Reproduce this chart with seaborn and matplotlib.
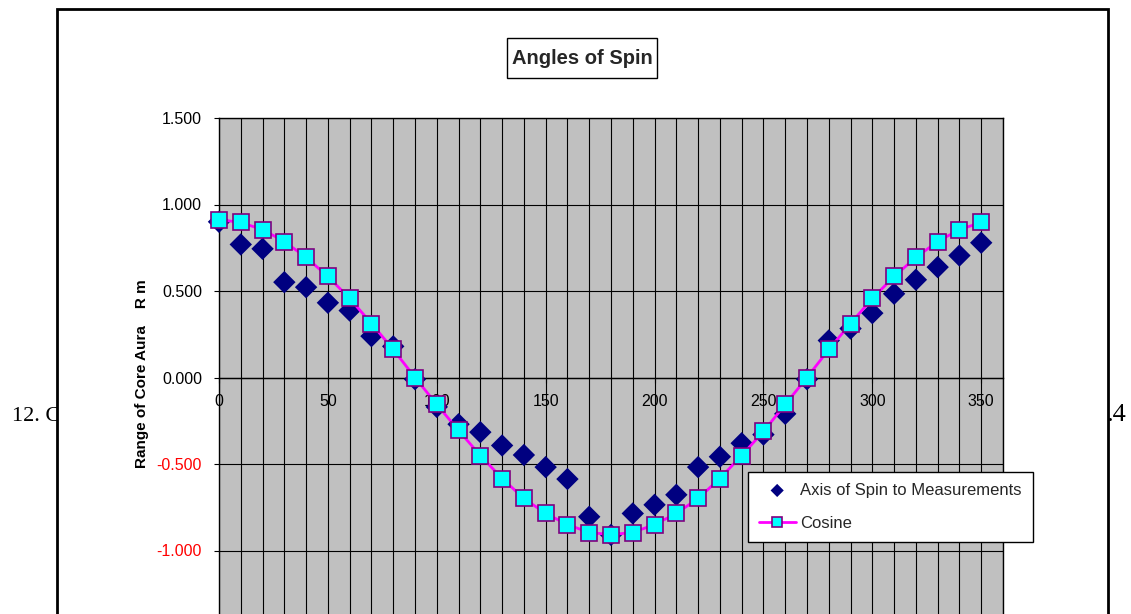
import matplotlib
matplotlib.use("Agg")
import matplotlib.pyplot as plt
import seaborn as sns
from matplotlib.patches import Rectangle

# Angle of rotation (degrees)
angles = list(range(0, 360, 10))

# Measured axis-of-spin readings
measured = [0.900, 0.769, 0.744, 0.551, 0.522, 0.432, 0.387, 0.239, 0.180, -0.010,
            -0.170, -0.270, -0.316, -0.393, -0.448, -0.518, -0.587, -0.805, -0.910, -0.786,
            -0.736, -0.678, -0.518, -0.458, -0.380, -0.330, -0.210, -0.010, 0.214, 0.283,
            0.372, 0.484, 0.565, 0.638, 0.705, 0.779]

# Reference cosine curve
cosine = [0.913, 0.896, 0.855, 0.786, 0.694, 0.584, 0.457, 0.312, 0.162, 0.000,
          -0.156, -0.306, -0.451, -0.584, -0.699, -0.786, -0.850, -0.896, -0.908, -0.896,
          -0.850, -0.786, -0.699, -0.584, -0.451, -0.312, -0.156, 0.000, 0.162, 0.312,
          0.457, 0.584, 0.694, 0.786, 0.855, 0.896]

x_ticks = [0, 50, 100, 150, 200, 250, 300, 350]
y_ticks = [-1.0, -0.5, 0.0, 0.5, 1.0, 1.5]

sns.set_theme(style="ticks")
plt.rcParams["font.family"] = ["Liberation Sans", "DejaVu Sans"]

W, H = 1131, 614
fig = plt.figure(figsize=(W / 100, H / 100), dpi=100)
fig.patch.set_facecolor("white")


def fx(px):
    return px / W


def fy(py):
    return 1 - py / H


# page text partly hidden behind the chart object
fig.text(fx(12), fy(421), "12. C", family="Liberation Serif", fontsize=16,
         va="baseline", ha="left", zorder=-3, color="black")
fig.text(fx(1106), fy(421), ".4", family="Liberation Serif", fontsize=19,
         va="baseline", ha="left", zorder=-3, color="black")

# chart object frame
fig.patches.append(Rectangle((fx(57), fy(660)), fx(1108) - fx(57), fy(9) - fy(660),
                             transform=fig.transFigure, facecolor="white",
                             edgecolor="black", linewidth=2, zorder=-1))

# title box
fig.patches.append(Rectangle((fx(507), fy(78)), fx(657) - fx(507), fy(38) - fy(78),
                             transform=fig.transFigure, facecolor="white",
                             edgecolor="black", linewidth=1, zorder=2))
fig.text(fx(582), fy(58), "Angles of Spin", ha="center", va="center",
         fontsize=14.5, fontweight="bold", zorder=3)

ax = fig.add_axes([fx(219), fy(637), fx(1003) - fx(219), (637 - 118) / H])
ax.set_facecolor("#C0C0C0")

sns.scatterplot(x=angles, y=measured, marker="D", s=130, color="#000080",
                edgecolor="none", linewidth=0, ax=ax,
                label="Axis of Spin to Measurements", zorder=3, clip_on=False)
sns.lineplot(x=angles, y=cosine, color="#FF00FF", linewidth=2, marker="s",
             markersize=11.5, markerfacecolor="#00FFFF", markeredgecolor="#800080",
             markeredgewidth=1.2, ax=ax, label="Cosine", zorder=4, clip_on=False)

ax.set_xlim(0, 360)
ax.set_ylim(-1.5, 1.5)
ax.set_xticks(x_ticks)
ax.set_xticklabels([str(v) for v in x_ticks])
ax.set_xticks(list(range(0, 361, 10)), minor=True)
ax.set_yticks(y_ticks)
ax.set_yticklabels([f"{v:.3f}" for v in y_ticks])
for lbl, v in zip(ax.get_yticklabels(), y_ticks):
    lbl.set_color("#FF0000" if v < 0 else "black")

ax.grid(axis="x", which="both", color="black", linewidth=0.8)
ax.grid(axis="y", which="major", color="black", linewidth=0.8)
ax.set_axisbelow(True)

for side in ["left", "top", "right"]:
    ax.spines[side].set_color("black")
    ax.spines[side].set_linewidth(1)
    ax.spines[side].set_visible(True)
ax.spines["bottom"].set_position(("data", 0))
ax.spines["bottom"].set_color("black")
ax.spines["bottom"].set_linewidth(1)

ax.tick_params(axis="x", which="major", direction="out", length=3.6, width=0.8,
               color="black", labelsize=11.5, pad=8.5, labelcolor="black", bottom=True)
ax.tick_params(axis="x", which="minor", length=0, bottom=False)
ax.tick_params(axis="y", which="major", direction="out", length=3.6, width=0.8,
               color="black", labelsize=11.5, pad=8.6, left=True)
ax.tick_params(axis="y", which="minor", length=0, left=False)

ax.set_xlabel("")
ax.set_ylabel("Range of Core Aura    R m", fontsize=11, fontweight="bold",
              color="black")
ax.yaxis.set_label_coords(-0.0895, 0.508)

leg = ax.legend(loc="upper left", bbox_to_anchor=(fx(748), fy(472)),
                bbox_transform=fig.transFigure, borderaxespad=0, frameon=True,
                fancybox=False, framealpha=1, fontsize=12, markerscale=0.6,
                handlelength=2.2, handletextpad=0.3, labelspacing=1.1,
                borderpad=0.65)
leg.get_frame().set_edgecolor("black")
leg.get_frame().set_linewidth(1)
leg.get_frame().set_facecolor("white")
leg.legend_handles[0].set_sizes([45])

fig.savefig("out.png", dpi=100)
